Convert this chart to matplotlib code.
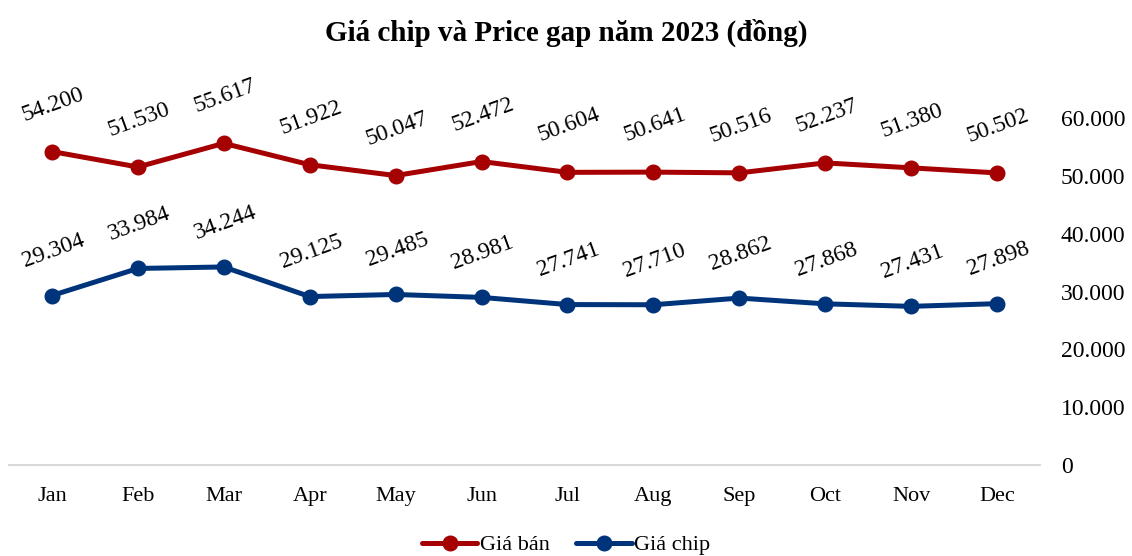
import matplotlib
matplotlib.use("Agg")
import matplotlib.pyplot as plt

months = ["Jan", "Feb", "Mar", "Apr", "May", "Jun", "Jul", "Aug", "Sep", "Oct", "Nov", "Dec"]
gia_ban = [54200, 51530, 55617, 51922, 50047, 52472, 50604, 50641, 50516, 52237, 51380, 50502]
gia_chip = [29304, 33984, 34244, 29125, 29485, 28981, 27741, 27710, 28862, 27868, 27431, 27898]
yticks = [0, 10000, 20000, 30000, 40000, 50000, 60000]

def fmt(v):
    return f"{v:,}".replace(",", ".")

plt.rcParams['font.family'] = ['Liberation Serif', 'DejaVu Serif']

fig = plt.figure(figsize=(11.32, 5.56), dpi=100)
ax = fig.add_axes([9/1132, 1-465/556, (1040-9)/1132, (465-118)/556])

x = list(range(len(months)))
red = "#A50002"
blue = "#00347A"
ax.plot(x, gia_ban, color=red, lw=3.6, marker="o", ms=10.5, label="Giá bán", solid_capstyle="round")
ax.plot(x, gia_chip, color=blue, lw=3.6, marker="o", ms=10.5, label="Giá chip", solid_capstyle="round")

for xi, v in zip(x, gia_ban):
    ax.annotate(fmt(v), (xi, v), xytext=(1, 34), textcoords="offset points",
                ha="center", va="center", rotation=20, fontsize=17)
for xi, v in zip(x, gia_chip):
    ax.annotate(fmt(v), (xi, v), xytext=(1, 32), textcoords="offset points",
                ha="center", va="center", rotation=20, fontsize=17)

ax.set_xlim(-0.5, len(months) - 0.5)
ax.set_ylim(0, 60000)
ax.set_xticks(x)
ax.set_xticklabels(months, fontsize=16)
ax.set_yticks(yticks)
ax.set_yticklabels([fmt(v) for v in yticks], fontsize=17)
ax.yaxis.tick_right()
ax.tick_params(axis="y", length=0, pad=15)
ax.tick_params(axis="x", length=0, pad=16)
for s in ["top", "left", "right"]:
    ax.spines[s].set_visible(False)
ax.spines["bottom"].set_color("#D9D9D9")
ax.spines["bottom"].set_linewidth(1.5)

fig.suptitle("Giá chip và Price gap năm 2023 (đồng)", fontsize=21, fontweight="bold", y=1-33/556, va="center")

fig.legend(loc="center", bbox_to_anchor=(0.5, 1-545/556), ncol=2, frameon=False,
           fontsize=16, handlelength=2.5, handletextpad=0.1, columnspacing=1.2)

fig.savefig("out.png", dpi=100)
